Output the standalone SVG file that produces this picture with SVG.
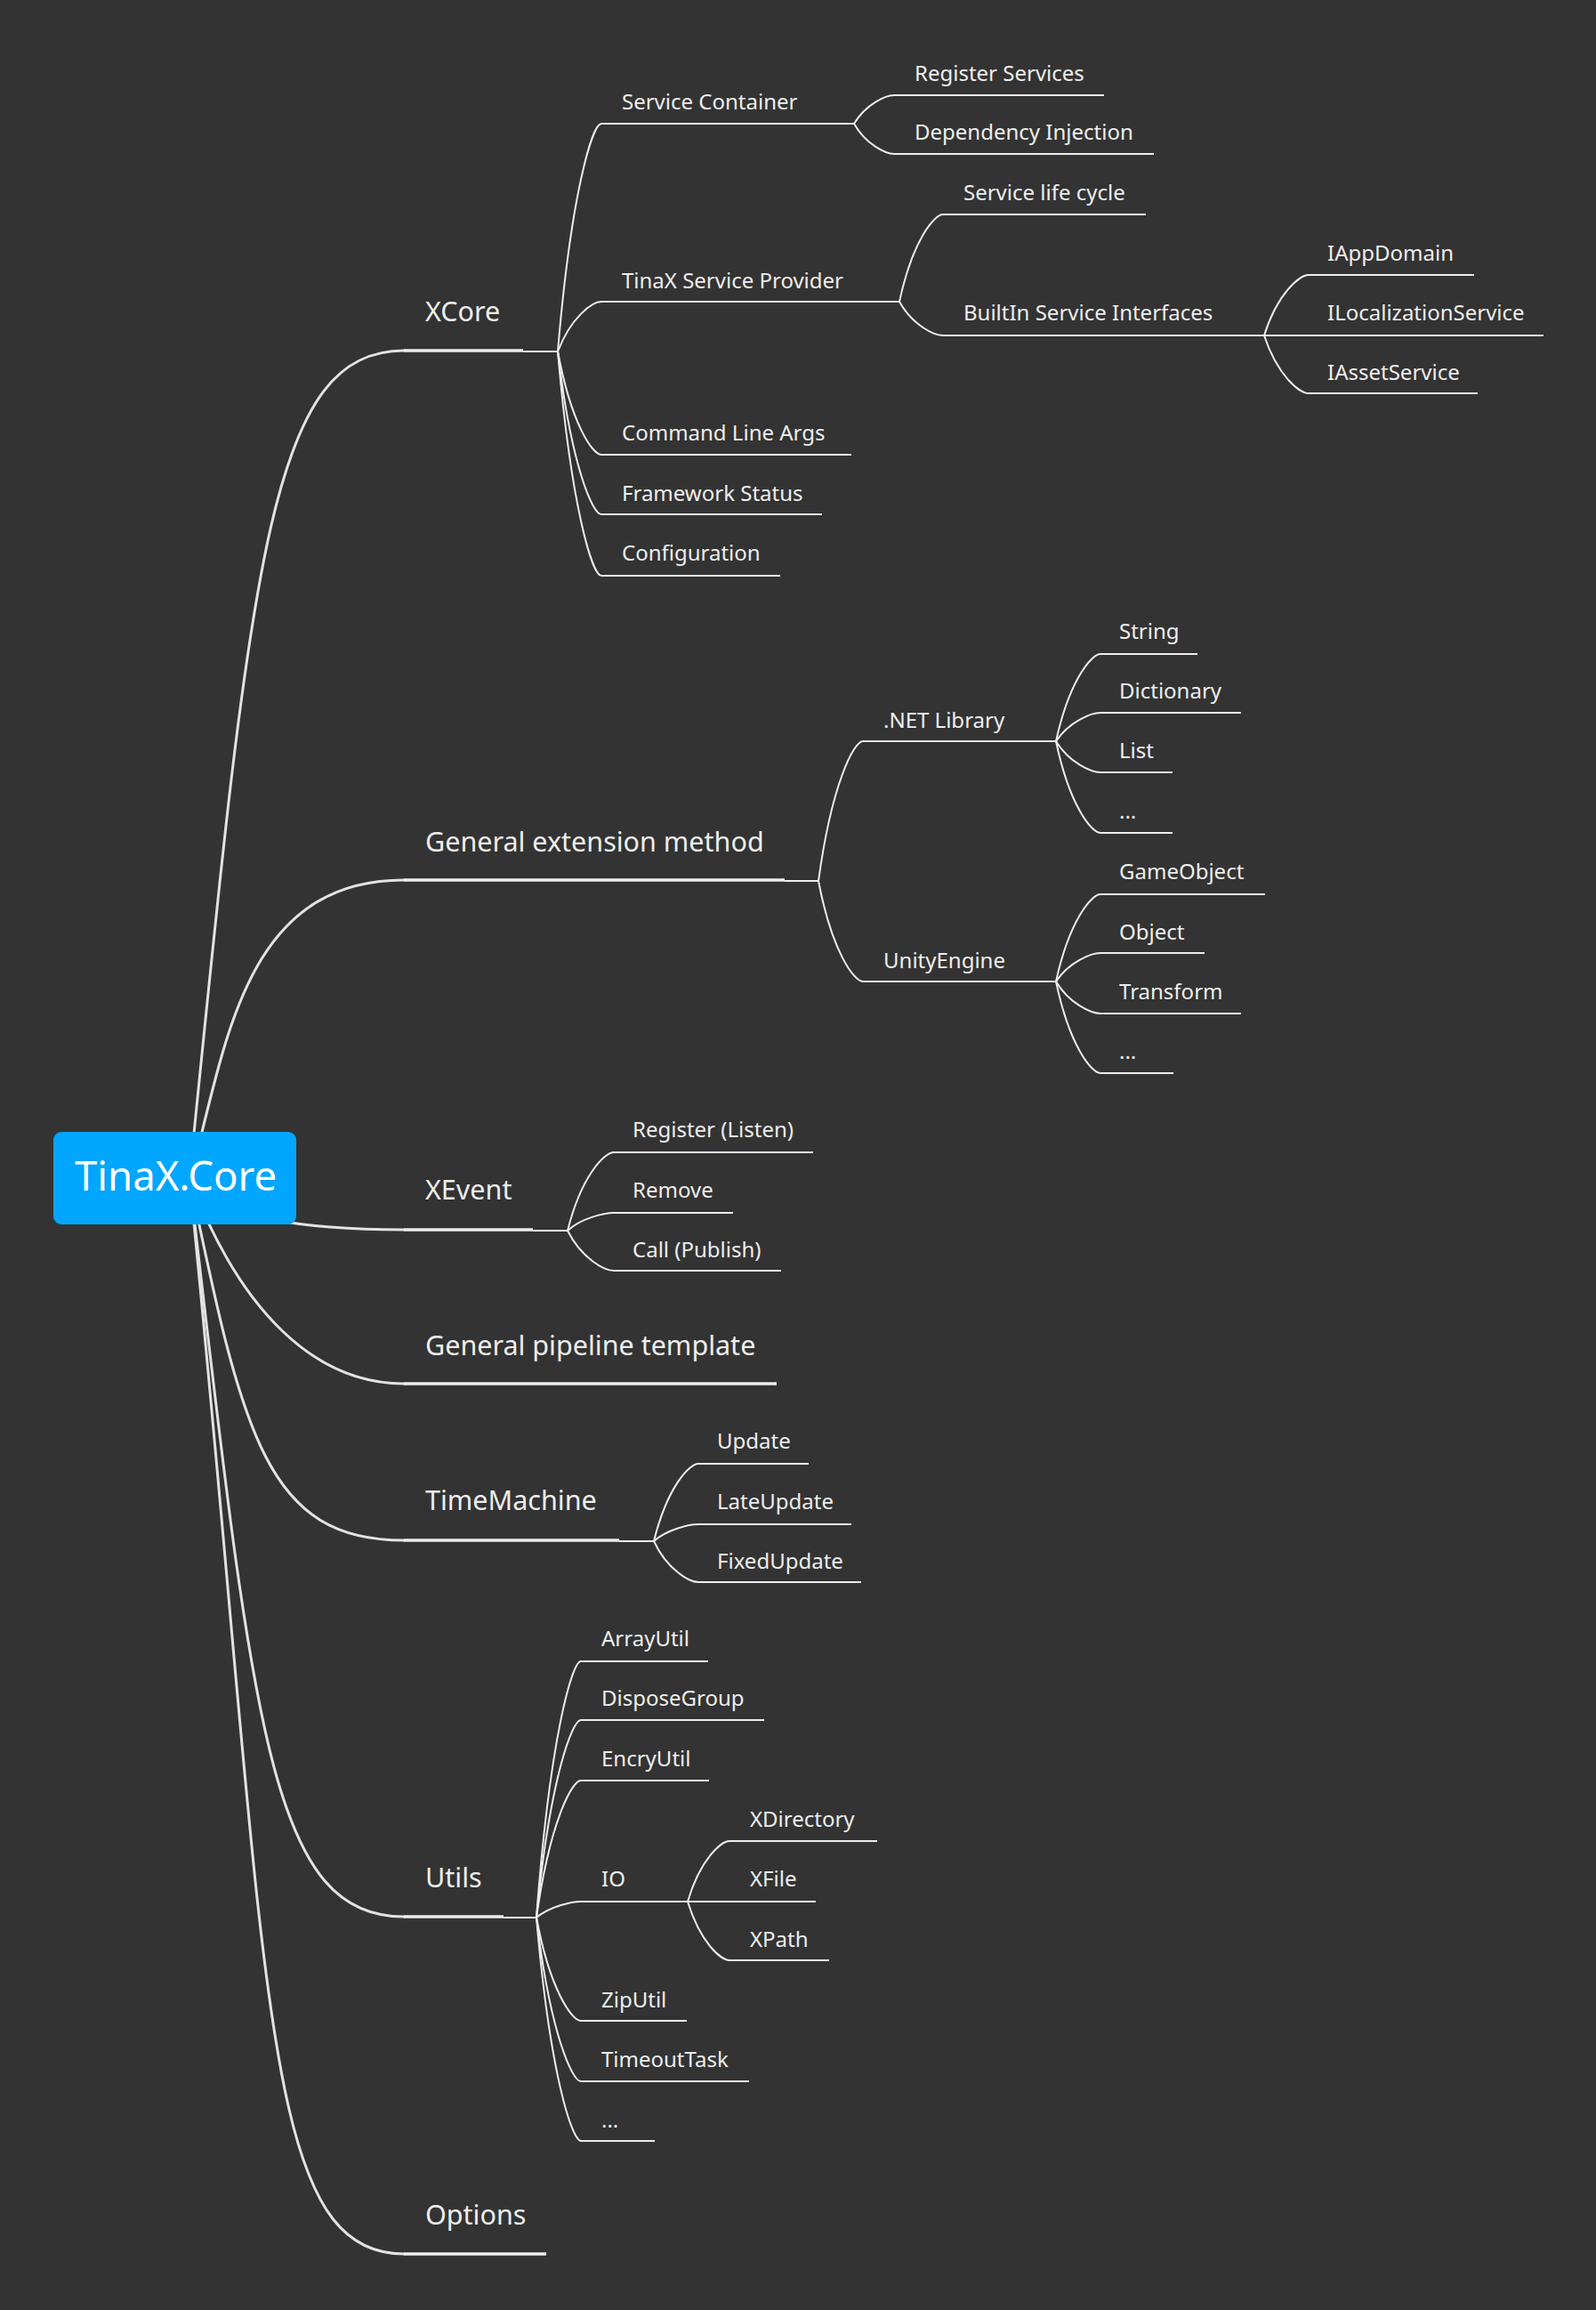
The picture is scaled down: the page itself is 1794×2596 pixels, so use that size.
<svg xmlns="http://www.w3.org/2000/svg" width="1794" height="2596" viewBox="0 0 1794 2596">
<style>
.bg{fill:#333333}
.main{fill:none;stroke:#e3e3e3;stroke-width:3;stroke-linecap:round}
.sub{fill:none;stroke:#eeeeee;stroke-width:2}
.ul1{stroke:#eeeeee;stroke-width:3.5}
.ul2{stroke:#eeeeee;stroke-width:2}
.t0{font-family:"Noto Sans","Open Sans",sans-serif;font-size:45.5px;fill:#ffffff}
.t1{font-family:"Noto Sans","Open Sans",sans-serif;font-size:30.5px;fill:#eeeeee}
.t2{font-family:"Noto Sans","Open Sans",sans-serif;font-size:24px;fill:#eeeeee}
</style>
<rect class="bg" x="0" y="0" width="1794" height="2596"/>
<g id="connectors">
<path class="main" d="M213,1324 C283,624 304,394 454,394"/>
<path class="main" d="M214,1324 C254,1174 274,989 454,989"/>
<path class="main" d="M213,1324 C240,1370 350,1382 454,1382"/>
<path class="main" d="M213,1324 C270,1474 354,1555 454,1555"/>
<path class="main" d="M213,1324 C273,1614 300,1731 454,1731"/>
<path class="main" d="M213,1324 C285,1944 304,2154 454,2154"/>
<path class="main" d="M213,1324 C304,2231 290,2533 454,2533"/>
<path class="sub" d="M588,395 L627,395"/>
<path class="sub" d="M627,395 C642,216 666,139 676,139"/>
<path class="sub" d="M627,395 C642,356 666,339 676,339"/>
<path class="sub" d="M627,395 C642,476 666,511 676,511"/>
<path class="sub" d="M627,395 C642,523 666,578 676,578"/>
<path class="sub" d="M627,395 C642,571 666,647 676,647"/>
<path class="sub" d="M960,139 C973.5,116.6 996,107 1005,107"/>
<path class="sub" d="M960,139 C973.5,162.8 996,173 1005,173"/>
<path class="sub" d="M1011,339 C1025.7,270.4 1050.2,241 1060,241"/>
<path class="sub" d="M1011,339 C1025.7,365.6 1050.2,377 1060,377"/>
<path class="sub" d="M1421,377 C1436,329.4 1461,309 1471,309"/>
<path class="sub" d="M1421,377 L1471,377"/>
<path class="sub" d="M1421,377 C1436,422.5 1461,442 1471,442"/>
<path class="sub" d="M882,990 L920,990"/>
<path class="sub" d="M920,990 C935,880 960,833 970,833"/>
<path class="sub" d="M920,990 C935,1069 960,1103 970,1103"/>
<path class="sub" d="M1187,833 C1202,764.4 1227,735 1237,735"/>
<path class="sub" d="M1187,833 C1202,810.6 1227,801 1237,801"/>
<path class="sub" d="M1187,833 C1202,857.5 1227,868 1237,868"/>
<path class="sub" d="M1187,833 C1202,905.1 1227,936 1237,936"/>
<path class="sub" d="M1187,1103 C1202,1034.4 1227,1005 1237,1005"/>
<path class="sub" d="M1187,1103 C1202,1080.6 1227,1071 1237,1071"/>
<path class="sub" d="M1187,1103 C1202,1128.2 1227,1139 1237,1139"/>
<path class="sub" d="M1187,1103 C1202,1175.1 1227,1206 1237,1206"/>
<path class="sub" d="M599,1383 L638,1383"/>
<path class="sub" d="M638,1383 C653.6,1321.1 679.6,1295 690,1295"/>
<path class="sub" d="M638,1383 C653.6,1368.7 679.6,1363 690,1363"/>
<path class="sub" d="M638,1383 C653.6,1414.2 679.6,1428 690,1428"/>
<path class="sub" d="M696,1732 L735,1732"/>
<path class="sub" d="M735,1732 C750,1671.1 775,1645 785,1645"/>
<path class="sub" d="M735,1732 C750,1718.7 775,1713 785,1713"/>
<path class="sub" d="M735,1732 C750,1764.2 775,1778 785,1778"/>
<path class="sub" d="M566,2155 L603,2155"/>
<path class="sub" d="M603,2155 C618,1953.4 643,1867 653,1867"/>
<path class="sub" d="M603,2155 C618,1999.6 643,1933 653,1933"/>
<path class="sub" d="M603,2155 C618,2047.2 643,2001 653,2001"/>
<path class="sub" d="M603,2155 C618,2142.4 643,2137 653,2137"/>
<path class="sub" d="M603,2155 C618,2236.2 643,2271 653,2271"/>
<path class="sub" d="M603,2155 C618,2283.8 643,2339 653,2339"/>
<path class="sub" d="M603,2155 C618,2330.7 643,2406 653,2406"/>
<path class="sub" d="M773,2137 C787.1,2089.4 810.6,2069 820,2069"/>
<path class="sub" d="M773,2137 L820,2137"/>
<path class="sub" d="M773,2137 C787.1,2183.2 810.6,2203 820,2203"/>
</g>
<g id="root"><rect x="60" y="1272" width="273" height="104" rx="9" fill="#00a6ff"/><text class="t0" x="84" y="1338">TinaX.Core</text></g>
<g id="xcore"><line class="ul1" x1="454" y1="394" x2="588" y2="394"/><text class="t1" x="478" y="361">XCore</text></g>
<g id="service-container"><line class="ul2" x1="676" y1="139" x2="960" y2="139"/><text class="t2" x="699" y="123">Service Container</text></g>
<g id="register-services"><line class="ul2" x1="1005" y1="107" x2="1241" y2="107"/><text class="t2" x="1028" y="91">Register Services</text></g>
<g id="dependency-injection"><line class="ul2" x1="1005" y1="173" x2="1297" y2="173"/><text class="t2" x="1028" y="157">Dependency Injection</text></g>
<g id="tinax-service-provider"><line class="ul2" x1="676" y1="339" x2="1011" y2="339"/><text class="t2" x="699" y="324">TinaX Service Provider</text></g>
<g id="service-life-cycle"><line class="ul2" x1="1060" y1="241" x2="1288" y2="241"/><text class="t2" x="1083" y="225">Service life cycle</text></g>
<g id="builtin-service-interfaces"><line class="ul2" x1="1060" y1="377" x2="1421" y2="377"/><text class="t2" x="1083" y="360">BuiltIn Service Interfaces</text></g>
<g id="iappdomain"><line class="ul2" x1="1471" y1="309" x2="1657" y2="309"/><text class="t2" x="1492" y="293">IAppDomain</text></g>
<g id="ilocalizationservice"><line class="ul2" x1="1471" y1="377" x2="1735" y2="377"/><text class="t2" x="1492" y="360">ILocalizationService</text></g>
<g id="iassetservice"><line class="ul2" x1="1471" y1="442" x2="1661" y2="442"/><text class="t2" x="1492" y="427">IAssetService</text></g>
<g id="command-line-args"><line class="ul2" x1="676" y1="511" x2="957" y2="511"/><text class="t2" x="699" y="495">Command Line Args</text></g>
<g id="framework-status"><line class="ul2" x1="676" y1="578" x2="924" y2="578"/><text class="t2" x="699" y="563">Framework Status</text></g>
<g id="configuration"><line class="ul2" x1="676" y1="647" x2="877" y2="647"/><text class="t2" x="699" y="630">Configuration</text></g>
<g id="general-extension-method"><line class="ul1" x1="454" y1="989" x2="882" y2="989"/><text class="t1" x="478" y="957">General extension method</text></g>
<g id="net-library"><line class="ul2" x1="970" y1="833" x2="1187" y2="833"/><text class="t2" x="993" y="818">.NET Library</text></g>
<g id="string"><line class="ul2" x1="1237" y1="735" x2="1346" y2="735"/><text class="t2" x="1258" y="718">String</text></g>
<g id="dictionary"><line class="ul2" x1="1237" y1="801" x2="1395" y2="801"/><text class="t2" x="1258" y="785">Dictionary</text></g>
<g id="list"><line class="ul2" x1="1237" y1="868" x2="1318" y2="868"/><text class="t2" x="1258" y="852">List</text></g>
<g id="net-more"><line class="ul2" x1="1237" y1="936" x2="1318" y2="936"/><text class="t2" x="1258" y="920">...</text></g>
<g id="unityengine"><line class="ul2" x1="970" y1="1103" x2="1187" y2="1103"/><text class="t2" x="993" y="1088">UnityEngine</text></g>
<g id="gameobject"><line class="ul2" x1="1237" y1="1005" x2="1422" y2="1005"/><text class="t2" x="1258" y="988">GameObject</text></g>
<g id="object"><line class="ul2" x1="1237" y1="1071" x2="1354" y2="1071"/><text class="t2" x="1258" y="1056">Object</text></g>
<g id="transform"><line class="ul2" x1="1237" y1="1139" x2="1395" y2="1139"/><text class="t2" x="1258" y="1123">Transform</text></g>
<g id="unity-more"><line class="ul2" x1="1237" y1="1206" x2="1319" y2="1206"/><text class="t2" x="1258" y="1190">...</text></g>
<g id="xevent"><line class="ul1" x1="454" y1="1382" x2="599" y2="1382"/><text class="t1" x="478" y="1348">XEvent</text></g>
<g id="register-listen"><line class="ul2" x1="690" y1="1295" x2="914" y2="1295"/><text class="t2" x="711" y="1278">Register (Listen)</text></g>
<g id="remove"><line class="ul2" x1="690" y1="1363" x2="824" y2="1363"/><text class="t2" x="711" y="1346">Remove</text></g>
<g id="call-publish"><line class="ul2" x1="690" y1="1428" x2="878" y2="1428"/><text class="t2" x="711" y="1413">Call (Publish)</text></g>
<g id="general-pipeline-template"><line class="ul1" x1="454" y1="1555" x2="873" y2="1555"/><text class="t1" x="478" y="1523">General pipeline template</text></g>
<g id="timemachine"><line class="ul1" x1="454" y1="1731" x2="696" y2="1731"/><text class="t1" x="478" y="1697">TimeMachine</text></g>
<g id="update"><line class="ul2" x1="785" y1="1645" x2="909" y2="1645"/><text class="t2" x="806" y="1628">Update</text></g>
<g id="lateupdate"><line class="ul2" x1="785" y1="1713" x2="957" y2="1713"/><text class="t2" x="806" y="1696">LateUpdate</text></g>
<g id="fixedupdate"><line class="ul2" x1="785" y1="1778" x2="968" y2="1778"/><text class="t2" x="806" y="1763">FixedUpdate</text></g>
<g id="utils"><line class="ul1" x1="454" y1="2154" x2="566" y2="2154"/><text class="t1" x="478" y="2121">Utils</text></g>
<g id="arrayutil"><line class="ul2" x1="653" y1="1867" x2="796" y2="1867"/><text class="t2" x="676" y="1850">ArrayUtil</text></g>
<g id="disposegroup"><line class="ul2" x1="653" y1="1933" x2="859" y2="1933"/><text class="t2" x="676" y="1917">DisposeGroup</text></g>
<g id="encryutil"><line class="ul2" x1="653" y1="2001" x2="797" y2="2001"/><text class="t2" x="676" y="1985">EncryUtil</text></g>
<g id="io"><line class="ul2" x1="653" y1="2137" x2="773" y2="2137"/><text class="t2" x="676" y="2120">IO</text></g>
<g id="xdirectory"><line class="ul2" x1="820" y1="2069" x2="986" y2="2069"/><text class="t2" x="843" y="2053">XDirectory</text></g>
<g id="xfile"><line class="ul2" x1="820" y1="2137" x2="917" y2="2137"/><text class="t2" x="843" y="2120">XFile</text></g>
<g id="xpath"><line class="ul2" x1="820" y1="2203" x2="932" y2="2203"/><text class="t2" x="843" y="2188">XPath</text></g>
<g id="ziputil"><line class="ul2" x1="653" y1="2271" x2="772" y2="2271"/><text class="t2" x="676" y="2256">ZipUtil</text></g>
<g id="timeouttask"><line class="ul2" x1="653" y1="2339" x2="842" y2="2339"/><text class="t2" x="676" y="2323">TimeoutTask</text></g>
<g id="utils-more"><line class="ul2" x1="653" y1="2406" x2="736" y2="2406"/><text class="t2" x="676" y="2391">...</text></g>
<g id="options"><line class="ul1" x1="454" y1="2533" x2="614" y2="2533"/><text class="t1" x="478" y="2500">Options</text></g>
</svg>
